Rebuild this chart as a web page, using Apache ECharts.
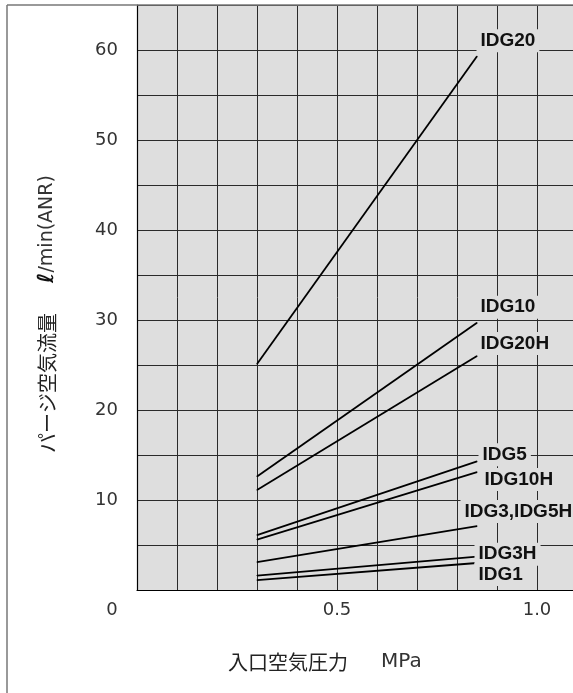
<!DOCTYPE html>
<html>
<head>
<meta charset="utf-8">
<script src="https://cdn.jsdelivr.net/npm/echarts@6/dist/echarts.min.js"></script>
<style>
html,body{margin:0;padding:0;background:#fff;}
#chart{width:573px;height:693px;}
</style>
</head>
<body>
<div id="chart"></div>
<script>
// ---- data ----
const pressure = [0.3, 0.85];               // MPa, start / end of each curve
const seriesNames = ['IDG20', 'IDG10', 'IDG20H', 'IDG5', 'IDG10H', 'IDG3,IDG5H', 'IDG3H', 'IDG1'];
const idg20   = [25.1, 59.3];
const idg10   = [12.6, 29.7];
const idg20h  = [11.1, 26.0];
const idg5    = [6.1, 14.3];
const idg10h  = [5.6, 13.1];
const idg3_5h = [3.1, 7.1];
const idg3h   = [1.6, 3.7];
const idg1    = [1.1, 3.0];
const flowValues = [idg20, idg10, idg20h, idg5, idg10h, idg3_5h, idg3h, idg1];
const xTickLabels = {0: '0', 0.5: '0.5', 1.0: '1.0'};
const yTickLabels = [10, 20, 30, 40, 50, 60];

// ---- styles ----
const labelOffsets = [[0, -15], [0, -15], [0, -12], [2, -6], [4, 8], [-16, -14], [-2, -2], [-2, 12]];
const LABEL_PAD = [2, 4, 0, 4];
const GRID_BG = '#dedede';
const LATIN = '"DejaVu Sans", Verdana, sans-serif';

const chart = echarts.init(document.getElementById('chart'), null, {renderer: 'canvas'});

const series = seriesNames.map((name, i) => {
  const vals = flowValues[i];
  const data = pressure.map((p, j) => {
    if (j === pressure.length - 1) {
      return {
        value: [p, vals[j]],
        label: {
          show: true,
          formatter: name,
          position: [labelOffsets[i][0], labelOffsets[i][1]],
          align: 'left',
          verticalAlign: 'middle',
          color: '#111',
          fontFamily: 'Liberation Sans, Arial, sans-serif',
          fontWeight: 'bold',
          fontSize: 19,
          lineHeight: 21,
          backgroundColor: GRID_BG,
          padding: LABEL_PAD
        }
      };
    }
    return [p, vals[j]];
  });
  return {
    name: name,
    type: 'line',
    data: data,
    symbol: 'circle',
    symbolSize: 1,
    showSymbol: true,
    silent: true,
    itemStyle: {color: '#000'},
    label: {show: false},
    lineStyle: {color: '#000', width: 1.8},
    labelLayout: {hideOverlap: false},
    z: 3
  };
});

const option = {
  animation: false,
  backgroundColor: '#fff',
  grid: {left: 137, top: 5, width: 440, height: 585, show: true, backgroundColor: GRID_BG, borderWidth: 0, outerBoundsMode: 'none', containLabel: false},
  xAxis: {
    type: 'value', min: 0, max: 1.1, interval: 0.1,
    axisLine: {show: true, onZero: false, lineStyle: {color: '#000', width: 1.2}},
    axisTick: {show: false},
    splitLine: {show: true, lineStyle: {color: '#2a2a2a', width: 1}},
    axisLabel: {
      margin: 11,
      color: '#333',
      fontFamily: LATIN,
      fontSize: 18,
      showMinLabel: true,
      showMaxLabel: false,
      hideOverlap: false,
      formatter: function (v) {
        const k = Math.round(v * 10) / 10;
        if (k === 0) return '{z|0}';
        return xTickLabels[k] !== undefined ? xTickLabels[k] : '';
      },
      rich: {z: {fontSize: 18, fontFamily: LATIN, color: '#333', padding: [0, 50, 0, 0]}}
    }
  },
  yAxis: {
    type: 'value', min: 0, max: 65, interval: 5,
    axisLine: {show: true, lineStyle: {color: '#000', width: 1.2}},
    axisTick: {show: false},
    splitLine: {show: true, lineStyle: {color: '#2a2a2a', width: 1}},
    axisLabel: {
      margin: 19,
      color: '#333',
      fontFamily: LATIN,
      fontSize: 18,
      formatter: function (v) {
        return yTickLabels.indexOf(Math.round(v)) >= 0 ? String(Math.round(v)) : '';
      }
    }
  },
  series: series,
  graphic: [
    {type: 'line', shape: {x1: 7, y1: 5, x2: 7, y2: 693}, style: {stroke: '#777', lineWidth: 1.5}, z: 10},
    {type: 'line', shape: {x1: 7, y1: 5, x2: 573, y2: 5}, style: {stroke: '#777', lineWidth: 1.5}, z: 10},
    {type: 'text', x: 228, y: 662, style: {text: '入口空気圧力', font: '20px "Noto Sans CJK JP"', fill: '#222', textVerticalAlign: 'middle'}},
    {type: 'text', x: 381, y: 662, style: {text: 'MPa', font: '20px ' + LATIN, fill: '#333', textVerticalAlign: 'middle'}},
    {type: 'text', x: 47, y: 383, rotation: Math.PI / 2, style: {text: 'パージ空気流量', font: '20px "Noto Sans CJK JP"', fill: '#222', textAlign: 'center', textVerticalAlign: 'middle'}},
    {type: 'text', x: 47, y: 229, rotation: Math.PI / 2, style: {
      text: '{l|ℓ}/min(ANR)', font: '19px ' + LATIN, fill: '#333', textAlign: 'center', textVerticalAlign: 'middle',
      rich: {l: {font: 'italic bold 22px "DejaVu Sans", sans-serif', fill: '#111'}}
    }}
  ]
};
chart.setOption(option);
</script>
</body>
</html>
